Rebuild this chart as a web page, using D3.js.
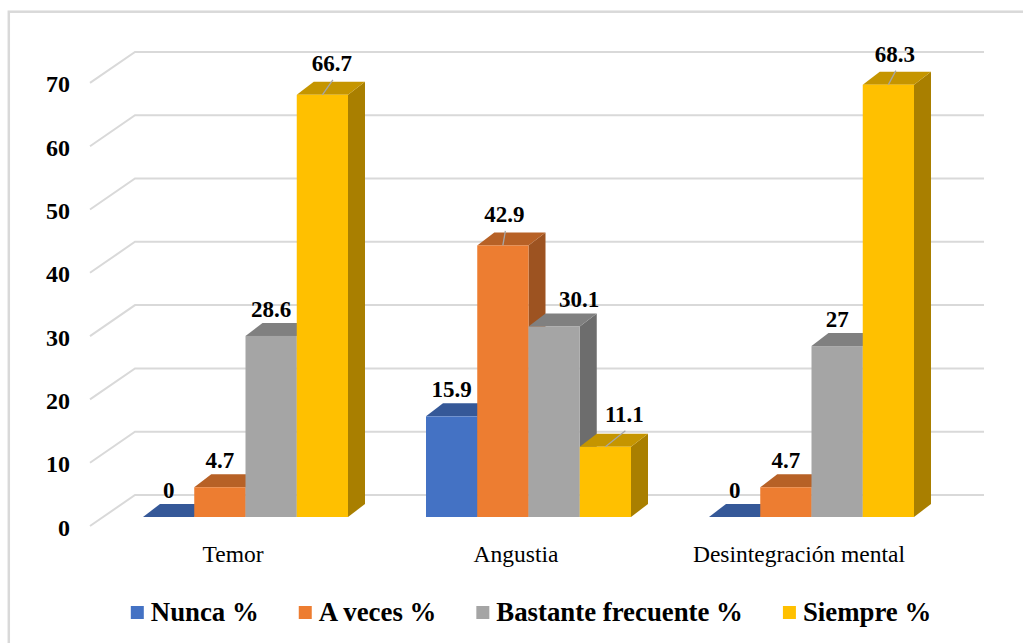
<!DOCTYPE html>
<html>
<head>
<meta charset="utf-8">
<script src="https://cdn.jsdelivr.net/npm/d3@7"></script>
<style>
  html, body { margin: 0; padding: 0; background: #ffffff; }
  svg { display: block; }
  svg text { font-family: "Liberation Serif", "Times New Roman", serif; }
</style>
</head>
<body>
<svg id="chart" width="1023" height="643"></svg>
<script>
// ---- data ----
const categories = ["Temor", "Angustia", "Desintegración mental"];
const seriesNames = ["Nunca %", "A veces %", "Bastante frecuente %", "Siempre %"];
const nunca = [0, 15.9, 0];
const aVeces = [4.7, 42.9, 4.7];
const bastante = [28.6, 30.1, 27];
const siempre = [66.7, 11.1, 68.3];
const yTicks = [0, 10, 20, 30, 40, 50, 60, 70];
const seriesColors = ["#4472C4", "#ED7D31", "#A5A5A5", "#FFC000"];

// labels that were dragged off their default spot (category, series, shift, leader line)
const labelMoves = [
  { c: 0, s: 3, dx: 9.5, dy: -5, leader: true },
  { c: 1, s: 1, dx: 1.5, dy: -4.5, leader: true },
  { c: 1, s: 2, dx: 25, dy: 0, leader: false },
  { c: 1, s: 3, dx: 19, dy: -6, leader: true },
  { c: 2, s: 3, dx: 6.5, dy: -4, leader: true }
];

const seriesValues = [nunca, aVeces, bastante, siempre];

// ---- layout ----
const svg = d3.select("#chart");
const depth = { dx: 17, dy: -13 };      // bar depth in projection
const wallShift = -22;                    // back wall sits above the bar front plane
const wallLeft = 135, wallRight = 984;
const frontLeft = 90, frontDrop = 31;

const y = d3.scaleLinear().domain([0, 70]).range([517, 517 - 6.33 * 70]);
const x0 = d3.scaleBand().domain(categories).range([104, 953]);
const x1 = d3.scaleBand().domain(seriesNames).range([39, 244]);

// chart frame
svg.append("rect")
  .attr("x", 8.8).attr("y", 11.7)
  .attr("width", 1040).attr("height", 660)
  .attr("fill", "none").attr("stroke", "#D9D9D9").attr("stroke-width", 2.5);

// gridlines on wall and side
const grid = svg.append("g").attr("fill", "none").attr("stroke", "#D9D9D9").attr("stroke-width", 2);
yTicks.forEach(t => {
  const yw = y(t) + wallShift;
  grid.append("path")
    .attr("d", `M${frontLeft},${yw + frontDrop}L${wallLeft},${yw}L${wallRight},${yw}`);
});

// tick labels
svg.append("g")
  .selectAll("text")
  .data(yTicks)
  .join("text")
  .attr("x", 70)
  .attr("y", d => y(d) + wallShift + frontDrop + 1.5)
  .attr("text-anchor", "end")
  .attr("dominant-baseline", "central")
  .attr("font-weight", "bold")
  .attr("font-size", 24)
  .attr("fill", "#000")
  .text(d => d);

// bars
const bars = svg.append("g");
categories.forEach((cat, ci) => {
  seriesNames.forEach((sn, si) => {
    const v = seriesValues[si][ci];
    const xl = x0(cat) + x1(sn);
    const xr = xl + x1.bandwidth();
    const yt = y(v), yb = y(0);
    const col = d3.color(seriesColors[si]);
    const g = bars.append("g");
    // side face
    g.append("path")
      .attr("d", `M${xr},${yb}L${xr + depth.dx},${yb + depth.dy}L${xr + depth.dx},${yt + depth.dy}L${xr},${yt}Z`)
      .attr("fill", col.darker(1.15));
    // top face
    g.append("path")
      .attr("d", `M${xl},${yt}L${xr},${yt}L${xr + depth.dx},${yt + depth.dy}L${xl + depth.dx},${yt + depth.dy}Z`)
      .attr("fill", col.darker(0.72));
    // front face
    g.append("rect")
      .attr("x", xl).attr("y", yt)
      .attr("width", x1.bandwidth()).attr("height", yb - yt)
      .attr("fill", seriesColors[si]);
  });
});

// data labels
const labels = svg.append("g");
categories.forEach((cat, ci) => {
  seriesNames.forEach((sn, si) => {
    const v = seriesValues[si][ci];
    const cx = x0(cat) + x1(sn) + x1.bandwidth() / 2;
    const mv = labelMoves.find(m => m.c === ci && m.s === si);
    const lx = cx + (mv ? mv.dx : 0);
    const ly = y(v) + depth.dy - 6 + (mv ? mv.dy : 0);
    if (mv && mv.leader) {
      labels.append("line")
        .attr("x1", lx + 1).attr("y1", ly + 9)
        .attr("x2", cx).attr("y2", y(v))
        .attr("stroke", "#A6A6A6").attr("stroke-width", 1.3);
    }
    labels.append("text")
      .attr("x", lx).attr("y", ly)
      .attr("text-anchor", "middle")
      .attr("font-weight", "bold")
      .attr("font-size", 23)
      .attr("fill", "#000")
      .text(v);
  });
});

// category labels
svg.append("g")
  .selectAll("text")
  .data(categories)
  .join("text")
  .attr("x", d => x0(d) + x0.bandwidth() / 2 - 12.5)
  .attr("y", 562)
  .attr("text-anchor", "middle")
  .attr("font-size", 23.5)
  .attr("fill", "#000")
  .text(d => d);

// legend
const legend = svg.append("g");
const items = seriesNames.map((name, i) => {
  const g = legend.append("g");
  g.append("rect").attr("x", 0).attr("y", -15).attr("width", 13).attr("height", 13)
    .attr("fill", seriesColors[i]);
  const t = g.append("text").attr("x", 20).attr("y", 0)
    .attr("font-weight", "bold").attr("font-size", 26.8)
    .attr("fill", "#000").text(name);
  return { g, w: 20 + t.node().getComputedTextLength() };
});
const gap = 40;
const total = d3.sum(items, d => d.w) + gap * (items.length - 1);
let cursor = 531 - total / 2;
items.forEach(it => {
  it.g.attr("transform", `translate(${cursor},621)`);
  cursor += it.w + gap;
});
</script>
</body>
</html>
